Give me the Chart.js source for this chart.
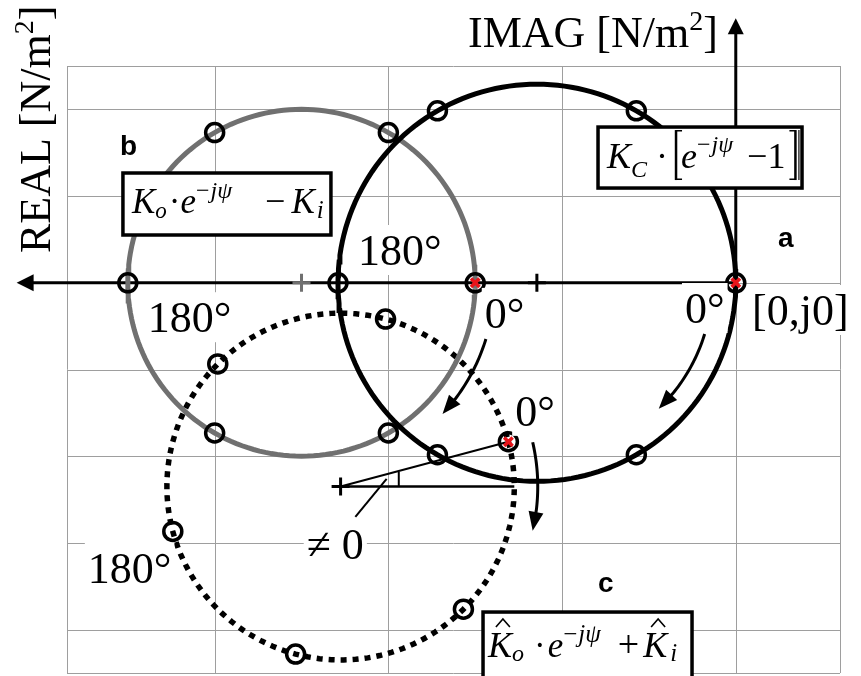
<!DOCTYPE html>
<html>
<head>
<meta charset="utf-8">
<script src="https://cdn.jsdelivr.net/npm/chart.js@4.4.1/dist/chart.umd.min.js"></script>
<style>
  html, body { margin: 0; padding: 0; background: #fff; }
</style>
</head>
<body>
<canvas id="nyquist" width="861" height="676"></canvas>
<script>
// three loci in the complex plane (REAL grows to the left, IMAG up)
// a = K_C(e^-jψ - 1), b = K_o e^-jψ - K_i, c = K̂_o e^-jψ + K̂_i
const locusNames = ['a', 'b', 'c'];
const centerReal = [2.29, 5.0, 4.55];
const centerImag = [0, 0, -2.35];
const radius = [2.29, 2.0, 2.0];
const phaseAtZero = [0, 0, 15];          // where ψ = 0 sits on each circle, deg
const markerPsi = [0, 60, 120, 180, 240, 300];

const realGrid = [-1.2, 0, 2, 4, 6, 7.7];
const imagGrid = [-4.5, -4, -3, -2, -1, 0, 1, 2, 2.5];

const SERIF = '"Liberation Serif", "Times New Roman", serif';
const SANS = '"Liberation Sans", Arial, sans-serif';
const GRAY = '#707070';

function locus(i, psi) {
    const t = (phaseAtZero[i] - psi) * Math.PI / 180;
    return {
        x: centerReal[i] - radius[i] * Math.cos(t),
        y: centerImag[i] + radius[i] * Math.sin(t)
    };
}

function curve(i) {
    const pts = [];
    for (let psi = 0; psi <= 360; psi += 2) pts.push(locus(i, psi));
    return pts;
}

const ringPoints = [];
locusNames.forEach((n, i) => markerPsi.forEach(p => ringPoints.push(locus(i, p))));
const zeroPoints = locusNames.map((n, i) => locus(i, 0));

// construction around locus c: centre -> ψ=0 point, horizontal reference, angle tick, leader
const cCentre = { x: centerReal[2], y: centerImag[2] };
const refLine = [cCentre, { x: centerReal[2] - radius[2], y: centerImag[2] }];
const phaseLine = [cCentre, zeroPoints[2]];
const angleTick = [{ x: 3.88, y: -2.35 }, { x: 3.88, y: -2.18 }];
const leader = [{ x: 4.38, y: -2.70 }, { x: 4.02, y: -2.26 }];

// arrows showing the direction of ψ, drawn as arcs around each locus centre
const arrowLocus = [0, 1, 2];
const arrowRadius = [2.02, 2.22, 2.27];
const arrowFrom = [-17, -17, 13];
const arrowTo = [-46, -43, -13];

// axes, with arrow tips
const realAxis = [{ x: 0, y: 0 }, { x: 8.28, y: 0 }];
const imagAxis = [{ x: 0, y: 0 }, { x: 0, y: 3.05 }];

const labels = [
    { t: '180°', x: 6.77, y: -0.57 },
    { t: '180°', x: 4.35, y: 0.205 },
    { t: '0°', x: 2.89, y: -0.52 },
    { t: '0°', x: 0.585, y: -0.464 },
    { t: '[0,j0]', x: -0.187, y: -0.487 },
    { t: '0°', x: 2.54, y: -1.65 },
    { t: '180°', x: 7.46, y: -3.46 },
    { t: '≠ 0', x: 4.94, y: -3.19 }
];
const letters = [
    { t: 'a', x: -0.486, y: 0.41 },
    { t: 'b', x: 7.09, y: 1.474 },
    { t: 'c', x: 1.586, y: -3.566 }
];

const I = s => `italic ${s}px ${SERIF}`;
const R = s => `${s}px ${SERIF}`;

const boxes = [
    { x: 1.586, y: 1.796, w: 204, h: 61, tx: 9, ty: 41, runs: [
        { t: 'K', f: I(36) }, { t: 'C', f: I(24), dy: 9 },
        { t: '·', f: R(36), dx: 9 }, { br: '[', dx: 6 },
        { t: 'e', f: I(36), dx: -3 }, { t: '−', f: R(24), dy: -16 }, { t: 'jψ', f: I(24), dy: -16, dx: 1 },
        { t: '−1', f: R(36), dx: 14 }, { br: ']', dx: 4 }
    ] },
    { x: 7.056, y: 1.266, w: 208, h: 62, tx: 9, ty: 40, runs: [
        { t: 'K', f: I(35) }, { t: 'o', f: I(23), dy: 5 },
        { t: '·', f: R(35), dx: 2 }, { t: 'e', f: I(35) },
        { t: '−', f: R(24), dy: -15 }, { t: 'jψ', f: I(24), dy: -15, dx: 1 },
        { t: '−', f: R(36), dx: 33 }, { t: 'K', f: I(35), dx: 6 }, { t: 'i', f: I(25), dy: 5, dx: 2 }
    ] },
    { x: 2.91, y: -3.797, w: 209, h: 68, tx: 5, ty: 45, runs: [
        { t: 'K', f: I(36), hat: true }, { t: 'o', f: I(24), dy: 4 },
        { t: '·', f: R(35), dx: 10 }, { t: 'e', f: I(35), dx: 2 },
        { t: '−', f: R(25), dy: -15 }, { t: 'jψ', f: I(25), dy: -15, dx: 1 },
        { t: '+', f: R(38), dx: 17 }, { t: 'K', f: I(36), dx: 4, hat: true }, { t: 'i', f: I(25), dy: 4, dx: 3 }
    ] }
];

function drawRuns(ctx, x, y, runs) {
    ctx.textBaseline = 'alphabetic';
    ctx.textAlign = 'left';
    runs.forEach(r => {
        x += r.dx || 0;
        if (r.br) {
            ctx.strokeStyle = '#000';
            const top = y - 38, bot = y + 12;
            const sx = r.br === '[' ? x + 2 : x + 6;
            const tick = r.br === '[' ? 6 : -6;
            ctx.lineWidth = 2.5;
            ctx.beginPath(); ctx.moveTo(sx, top); ctx.lineTo(sx, bot); ctx.stroke();
            ctx.lineWidth = 1.5;
            ctx.beginPath();
            ctx.moveTo(sx, top + 0.75); ctx.lineTo(sx + tick, top + 0.75);
            ctx.moveTo(sx, bot - 0.75); ctx.lineTo(sx + tick, bot - 0.75);
            ctx.stroke();
            if (r.br === ']') {
                ctx.lineWidth = 1.2;
                ctx.beginPath(); ctx.moveTo(sx + 3.5, top); ctx.lineTo(sx + 3.5, bot); ctx.stroke();
            }
            x += 10;
            return;
        }
        ctx.font = r.f;
        ctx.fillStyle = '#000';
        ctx.fillText(r.t, x, y + (r.dy || 0));
        const w = ctx.measureText(r.t).width;
        if (r.hat) {
            const cx = x + w * 0.62, top = y - 30;
            ctx.strokeStyle = '#000';
            ctx.lineWidth = 1.6;
            ctx.beginPath();
            ctx.moveTo(cx - 7, top); ctx.lineTo(cx, top - 8); ctx.lineTo(cx + 7, top);
            ctx.stroke();
        }
        x += w;
    });
    return x;
}

function arrowPath(ctx, pts, width, headLen, headHalf) {
    const n = pts.length;
    const tip = pts[n - 1];
    let k = n - 2;
    while (k > 0 && Math.hypot(tip.x - pts[k].x, tip.y - pts[k].y) < headLen) k--;
    const dx = tip.x - pts[k].x, dy = tip.y - pts[k].y;
    const L = Math.hypot(dx, dy);
    const ux = dx / L, uy = dy / L;
    const bx = tip.x - ux * headLen, by = tip.y - uy * headLen;
    ctx.strokeStyle = '#000';
    ctx.fillStyle = '#000';
    ctx.lineWidth = width;
    ctx.beginPath();
    ctx.moveTo(pts[0].x, pts[0].y);
    for (let j = 1; j <= k; j++) ctx.lineTo(pts[j].x, pts[j].y);
    ctx.lineTo(bx + ux * 2, by + uy * 2);
    ctx.stroke();
    ctx.beginPath();
    ctx.moveTo(tip.x, tip.y);
    ctx.lineTo(bx - uy * headHalf, by + ux * headHalf);
    ctx.lineTo(bx + uy * headHalf, by - ux * headHalf);
    ctx.closePath();
    ctx.fill();
}

const decorations = {
    id: 'decorations',
    beforeDatasetsDraw(chart) {
        const { ctx, chartArea: a, scales: { x, y } } = chart;
        const px = p => ({ x: x.getPixelForValue(p.x), y: y.getPixelForValue(p.y) });
        ctx.save();
        // grid
        ctx.strokeStyle = '#9e9e9e';
        ctx.lineWidth = 1;
        ctx.beginPath();
        realGrid.forEach(v => {
            const gx = Math.round(x.getPixelForValue(v)) + 0.5;
            ctx.moveTo(gx, a.top); ctx.lineTo(gx, a.bottom);
        });
        imagGrid.forEach(v => {
            const gy = Math.round(y.getPixelForValue(v)) + 0.5;
            ctx.moveTo(a.left, gy); ctx.lineTo(a.right, gy);
        });
        ctx.stroke();
        // axes
        arrowPath(ctx, imagAxis.map(px), 3, 16, 8);
        arrowPath(ctx, realAxis.map(px), 3, 17, 8.5);
        ctx.restore();
    },
    afterDatasetsDraw(chart) {
        const { ctx, scales: { x, y } } = chart;
        const px = p => ({ x: x.getPixelForValue(p.x), y: y.getPixelForValue(p.y) });
        ctx.save();

        // direction arrows
        arrowLocus.forEach((li, k) => {
            const pts = [];
            const steps = 30;
            for (let s = 0; s <= steps; s++) {
                const th = (arrowFrom[k] + (arrowTo[k] - arrowFrom[k]) * s / steps) * Math.PI / 180;
                pts.push(px({
                    x: centerReal[li] - arrowRadius[k] * Math.cos(th),
                    y: centerImag[li] + arrowRadius[k] * Math.sin(th)
                }));
            }
            arrowPath(ctx, pts, 3, 19, 7.5);
        });

        // phase labels on a white ground
        ctx.font = R(44);
        ctx.textBaseline = 'alphabetic';
        labels.forEach(l => {
            const p = px(l);
            const w = ctx.measureText(l.t).width;
            ctx.fillStyle = '#fff';
            ctx.fillRect(p.x - 3, p.y - 40, w + 6, 50);
            ctx.fillStyle = '#000';
            ctx.fillText(l.t, p.x, p.y);
        });

        ctx.font = `bold 28px ${SANS}`;
        letters.forEach(l => {
            const p = px(l);
            ctx.fillText(l.t, p.x, p.y);
        });

        // formula boxes
        boxes.forEach(b => {
            const p = px(b);
            ctx.fillStyle = '#fff';
            ctx.fillRect(p.x, p.y, b.w, b.h);
            ctx.strokeStyle = '#000';
            ctx.lineWidth = 3.5;
            ctx.strokeRect(p.x, p.y, b.w, b.h);
            drawRuns(ctx, p.x + b.tx, p.y + b.ty, b.runs);
        });

        // axis titles
        const imagPos = px({ x: 3.083, y: 2.72 });
        drawRuns(ctx, imagPos.x, imagPos.y, [
            { t: 'IMAG [N/m', f: R(44) }, { t: '2', f: R(28), dy: -17 }, { t: ']', f: R(44) }
        ]);
        const realPos = px({ x: 7.896, y: 0.343 });
        ctx.translate(realPos.x, realPos.y);
        ctx.rotate(-Math.PI / 2);
        drawRuns(ctx, 0, 0, [
            { t: 'REAL [N/m', f: R(44) }, { t: '2', f: R(28), dy: -17 }, { t: ']', f: R(44) }
        ]);
        ctx.restore();
    }
};

const line = (data, color, width, extra) => Object.assign({
    data, showLine: true, borderColor: color, borderWidth: width,
    pointRadius: 0, fill: false, tension: 0, clip: false
}, extra || {});

new Chart(document.getElementById('nyquist'), {
    type: 'scatter',
    data: {
        datasets: [
            { data: zeroPoints, pointStyle: 'crossRot', pointRadius: 6, borderColor: '#e8141a',
              borderWidth: 3.5, backgroundColor: '#e8141a', showLine: false },
            { data: ringPoints, pointStyle: 'circle', pointRadius: 9, borderColor: '#000',
              borderWidth: 3.5, backgroundColor: 'rgba(0,0,0,0)', showLine: false },
            { data: [{ x: centerReal[0], y: 0 }, cCentre], pointStyle: 'cross', pointRadius: 9,
              borderColor: '#000', borderWidth: 3, showLine: false },
            { data: [{ x: centerReal[1], y: 0 }], pointStyle: 'cross', pointRadius: 9,
              borderColor: GRAY, borderWidth: 3, showLine: false },
            line(phaseLine, '#000', 2),
            line(refLine, '#000', 2.5),
            line(angleTick, '#000', 2),
            line(leader, '#000', 2),
            line(curve(0), '#000', 5),
            line(curve(1), GRAY, 5),
            line(curve(2), '#000', 5.5, { borderDash: [6, 6], borderCapStyle: 'butt' })
        ]
    },
    options: {
        responsive: false,
        animation: false,
        events: [],
        layout: { autoPadding: false, padding: { left: 67, top: 66, right: 21, bottom: 3 } },
        plugins: { legend: { display: false }, tooltip: { enabled: false } },
        scales: {
            x: { type: 'linear', reverse: true, min: -1.2, max: 7.7, display: false },
            y: { type: 'linear', min: -4.5, max: 2.5, display: false }
        }
    },
    plugins: [decorations]
});
</script>
</body>
</html>
